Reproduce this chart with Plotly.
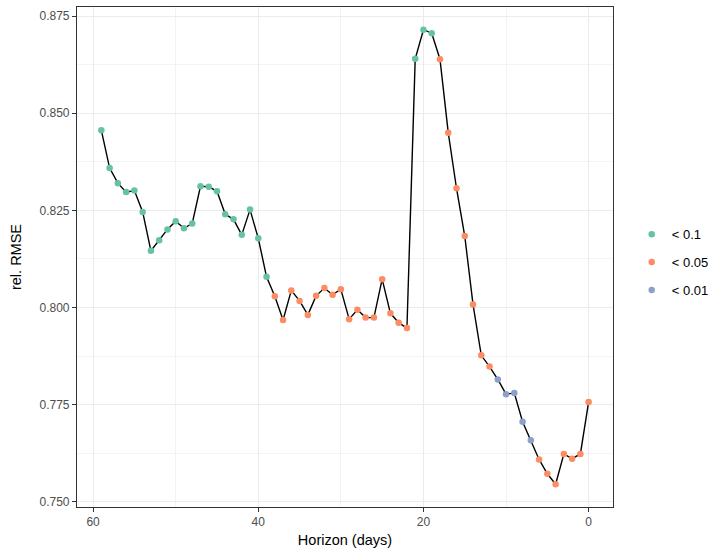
import plotly.graph_objects as go

days = list(range(59, -1, -1))
rmse = [0.8456, 0.8359, 0.8320, 0.8297, 0.8301, 0.8246, 0.8146, 0.8173, 0.8201, 0.8222,
        0.8204, 0.8216, 0.8312, 0.8311, 0.8299, 0.8240, 0.8227, 0.8187, 0.8252, 0.8178,
        0.8079, 0.8029, 0.7968, 0.8044, 0.8017, 0.7981, 0.8030, 0.8050, 0.8033, 0.8047,
        0.7970, 0.7994, 0.7974, 0.7974, 0.8073, 0.7985, 0.7961, 0.7947, 0.8640, 0.8715,
        0.8706, 0.8639, 0.8450, 0.8307, 0.8184, 0.8008, 0.7877, 0.7848, 0.7815, 0.7777,
        0.7780, 0.7706, 0.7658, 0.7609, 0.7572, 0.7545, 0.7623, 0.7611, 0.7623, 0.7757]
signif = (["< 0.1"] * 21 + ["< 0.05"] * 17 + ["< 0.1"] * 3 + ["< 0.05"] * 7
          + ["< 0.01"] * 5 + ["< 0.05"] * 7)

levels = ["< 0.1", "< 0.05", "< 0.01"]
colors = {"< 0.1": "#66C2A5", "< 0.05": "#FC8D62", "< 0.01": "#8DA0CB"}

font = "Liberation Sans, Arial, sans-serif"

fig = go.Figure()
fig.add_trace(go.Scatter(x=days, y=rmse, mode="lines",
                         line=dict(color="black", width=1.4),
                         showlegend=False, hoverinfo="skip"))
for lv in levels:
    xs = [d for d, s in zip(days, signif) if s == lv]
    ys = [v for v, s in zip(rmse, signif) if s == lv]
    fig.add_trace(go.Scatter(x=xs, y=ys, mode="markers", name=lv, legendgroup=lv,
                             marker=dict(color=colors[lv], size=6.5, line=dict(width=0))))

axis_common = dict(showline=True, linecolor="#333333", linewidth=1.1, mirror=True,
                   ticks="outside", ticklen=4, tickcolor="#333333", tickwidth=1,
                   gridcolor="#EBEBEB", gridwidth=1.2, zeroline=False,
                   tickfont=dict(family=font, size=12, color="#4D4D4D"),
                   minor=dict(showgrid=True, gridcolor="#F3F3F3", gridwidth=0.6, ticks=""))

fig.update_xaxes(range=[61.95, -2.95], tickvals=[60, 40, 20, 0],
                 minor_tickvals=[50, 30, 10],
                 title=dict(text="Horizon (days)", font=dict(family=font, size=14.5, color="black"),
                            standoff=6),
                 **axis_common)
fig.update_yaxes(range=[0.74865, 0.87735], tickvals=[0.750, 0.775, 0.800, 0.825, 0.850, 0.875],
                 ticktext=["0.750", "0.775", "0.800", "0.825", "0.850", "0.875"],
                 minor_tickvals=[0.7625, 0.7875, 0.8125, 0.8375, 0.8625],
                 title=dict(text="rel. RMSE", font=dict(family=font, size=14.5, color="black"),
                            standoff=14),
                 **axis_common)

fig.update_layout(
    width=713, height=552,
    margin=dict(l=77, r=100, t=7, b=45, autoexpand=False),
    plot_bgcolor="white", paper_bgcolor="white",
    legend=dict(xref="container", x=0.886, xanchor="left",
                yref="container", y=0.525, yanchor="middle",
                traceorder="grouped", tracegroupgap=8,
                font=dict(family=font, size=13, color="black"),
                bgcolor="rgba(0,0,0,0)"),
    font=dict(family=font),
)

fig.write_html("out.html")
